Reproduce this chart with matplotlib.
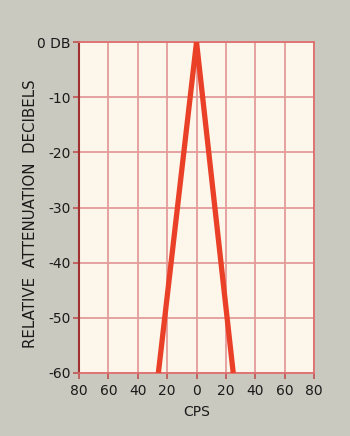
import numpy as np
import matplotlib.pyplot as plt

# response curve: relative attenuation (dB) vs. frequency offset (cps)
cps = [-26, 0, 25]
attenuation_db = [-60, 0, -60]

x_ticks = [-80, -60, -40, -20, 0, 20, 40, 60, 80]
x_labels = ["80", "60", "40", "20", "0", "20", "40", "60", "80"]
y_ticks = [0, -10, -20, -30, -40, -50, -60]
y_labels = ["0 DB", "-10", "-20", "-30", "-40", "-50", "-60"]

fig = plt.figure(figsize=(3.5, 4.36), dpi=100)
fig.patch.set_facecolor("#c9c9bf")
ax = fig.add_axes([0.226, 0.1445, 0.671, 0.759])
ax.set_facecolor("#fcf7ea")

ax.plot(cps, attenuation_db, color="#ea4028", linewidth=3.8, solid_capstyle="butt", zorder=3)

ax.set_xlim(-80, 80)
ax.set_ylim(-60, 0)
ax.set_xticks(x_ticks, x_labels)
ax.set_yticks(y_ticks, y_labels)
ax.grid(True, color="#e39a9a", linewidth=1.3)
ax.set_axisbelow(True)

for side in ["top", "right", "bottom"]:
    ax.spines[side].set_color("#e07070")
    ax.spines[side].set_linewidth(1.3)
ax.spines["left"].set_color("#a03030")
ax.spines["left"].set_linewidth(1.5)

ax.tick_params(axis="both", colors="#c05050", length=4, width=1.2,
               labelcolor="#1a1a1a", labelsize=10)
ax.tick_params(axis="y", pad=2)
ax.tick_params(axis="x", pad=4)

ax.set_xlabel("CPS", fontsize=10, color="#1a1a1a", labelpad=5)
# y label placed by hand, as in the scan
fig.text(0.088, 0.51, "RELATIVE  ATTENUATION  DECIBELS", rotation=90,
         ha="center", va="center", fontsize=10.8, color="#1a1a1a")

plt.savefig("out.png", dpi=100, facecolor=fig.get_facecolor())
